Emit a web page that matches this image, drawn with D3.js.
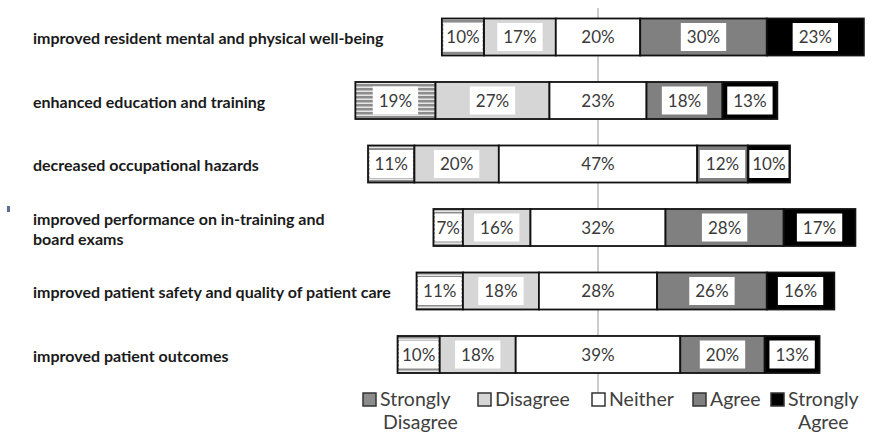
<!DOCTYPE html>
<html>
<head>
<meta charset="utf-8">
<script src="https://cdn.jsdelivr.net/npm/d3@7"></script>
<style>
  html, body { margin: 0; padding: 0; background: #fff; }
  svg { display: block; }
</style>
</head>
<body>
<svg id="chart" width="876" height="432"></svg>
<script>
// ---- data ----
const categories = [
  ["improved resident mental and physical well-being"],
  ["enhanced education and training"],
  ["decreased occupational hazards"],
  ["improved performance on in-training and", "board exams"],
  ["improved patient safety and quality of patient care"],
  ["improved patient outcomes"]
];
const stronglyDisagree = [10, 19, 11, 7, 11, 10];
const disagree         = [17, 27, 20, 16, 18, 18];
const neither          = [20, 23, 47, 32, 28, 39];
const agree            = [30, 18, 12, 28, 26, 20];
const stronglyAgree    = [23, 13, 10, 17, 16, 13];
const seriesNames = ["Strongly Disagree", "Disagree", "Neither", "Agree", "Strongly Agree"];
const legendLines = [["Strongly", "Disagree"], ["Disagree"], ["Neither"], ["Agree"], ["Strongly", "Agree"]];

// ---- setup ----
const svg = d3.select("#chart");
const seriesValues = [stronglyDisagree, disagree, neither, agree, stronglyAgree];
const fills = ["url(#sdPattern)", "#d6d6d6", "#ffffff", "#808080", "#000000"];

const defs = svg.append("defs");
const pat = defs.append("pattern").attr("id", "sdPattern")
  .attr("patternUnits", "userSpaceOnUse").attr("width", 8).attr("height", 4);
pat.append("rect").attr("width", 8).attr("height", 4).attr("fill", "#e6e6e6");
pat.append("rect").attr("y", 0).attr("width", 8).attr("height", 2).attr("fill", "#8c8c8c");
pat.append("rect").attr("y", 2).attr("width", 8).attr("height", 1).attr("fill", "#bcbcbc");

const x = d3.scaleLinear().domain([-60, 65]).range([344.8, 872.3]);
const y = d3.scaleBand().domain(d3.range(categories.length))
  .range([5.25, 386.25]).paddingInner(0.417).paddingOuter(0.2085);

// build segment rows
const rows = categories.map((c, i) => {
  const vals = seriesValues.map(s => s[i]);
  let start = -(vals[0] + vals[1] + vals[2] / 2);
  const segs = vals.map((v, k) => {
    const s = { k, v, x0: start, x1: start + v, row: i };
    start += v;
    return s;
  });
  return { i, label: c, segs };
});

// center line
svg.append("line")
  .attr("x1", x(0)).attr("x2", x(0))
  .attr("y1", 8).attr("y2", 397)
  .attr("stroke", "#9a9a9a").attr("stroke-width", 1);

// category labels
const labelG = svg.append("g");
rows.forEach(r => {
  const cy = y(r.i) + y.bandwidth() / 2;
  const n = r.label.length;
  const t = labelG.append("text")
    .attr("x", 33)
    .attr("font-family", "Lato, 'Open Sans', sans-serif")
    .attr("font-weight", "bold")
    .attr("font-size", 16)
    .attr("fill", "#1a1a1a");
  r.label.forEach((line, j) => {
    t.append("tspan")
      .attr("x", 33)
      .attr("y", cy + 7 + (j - (n - 1) / 2) * 20)
      .text(line);
  });
});

// bars
const barG = svg.append("g");
rows.forEach(r => {
  const g = barG.append("g");
  const y0 = y(r.i), bh = y.bandwidth();
  g.selectAll("rect.seg").data(r.segs).join("rect")
    .attr("class", "seg")
    .attr("x", d => x(d.x0))
    .attr("y", y0)
    .attr("width", d => x(d.x1) - x(d.x0))
    .attr("height", bh)
    .attr("fill", d => fills[d.k])
    .attr("stroke", "#111")
    .attr("stroke-width", 1.8);

  const fontSize = 17;
  r.segs.forEach(d => {
    const cx = (x(d.x0) + x(d.x1)) / 2;
    const cy = y0 + bh / 2;
    const txt = d.v + "%";
    const tEl = g.append("text")
      .attr("x", cx).attr("y", cy)
      .attr("dy", "0.36em")
      .attr("text-anchor", "middle")
      .attr("font-family", "Lato, 'Open Sans', sans-serif")
      .attr("font-size", fontSize)
      .attr("fill", "#3a3a3a")
      .text(txt);
    if (d.k !== 2) {
      const tw = tEl.node().getComputedTextLength();
      const segW = x(d.x1) - x(d.x0);
      const bw = Math.min(tw + 12, segW - 3);
      g.insert("rect", "text")
        .attr("x", cx - bw / 2)
        .attr("y", cy - 14)
        .attr("width", bw)
        .attr("height", 28)
        .attr("fill", "#ffffff");
      tEl.raise();
    }
  });
});

// legend
const legendX = [363, 478, 592, 693, 771];
const legendIndent = [3, 0, 0, 0, 10];
const lg = svg.append("g");
seriesNames.forEach((name, k) => {
  const gx = legendX[k];
  lg.append("rect")
    .attr("x", gx).attr("y", 393)
    .attr("width", 13).attr("height", 13)
    .attr("fill", k === 0 ? "#8c8c8c" : fills[k])
    .attr("stroke", "#333").attr("stroke-width", 1.5);
  const t = lg.append("text")
    .attr("font-family", "Lato, 'Open Sans', sans-serif")
    .attr("font-size", 19.5)
    .attr("fill", "#404040");
  legendLines[k].forEach((line, j) => {
    t.append("tspan")
      .attr("x", gx + 17 + (j > 0 ? legendIndent[k] : 0))
      .attr("y", 406 + j * 23)
      .text(line);
  });
});

// small stray mark at left
svg.append("rect").attr("x", 7).attr("y", 206).attr("width", 3).attr("height", 6).attr("fill", "#5a6e98");
</script>
</body>
</html>
